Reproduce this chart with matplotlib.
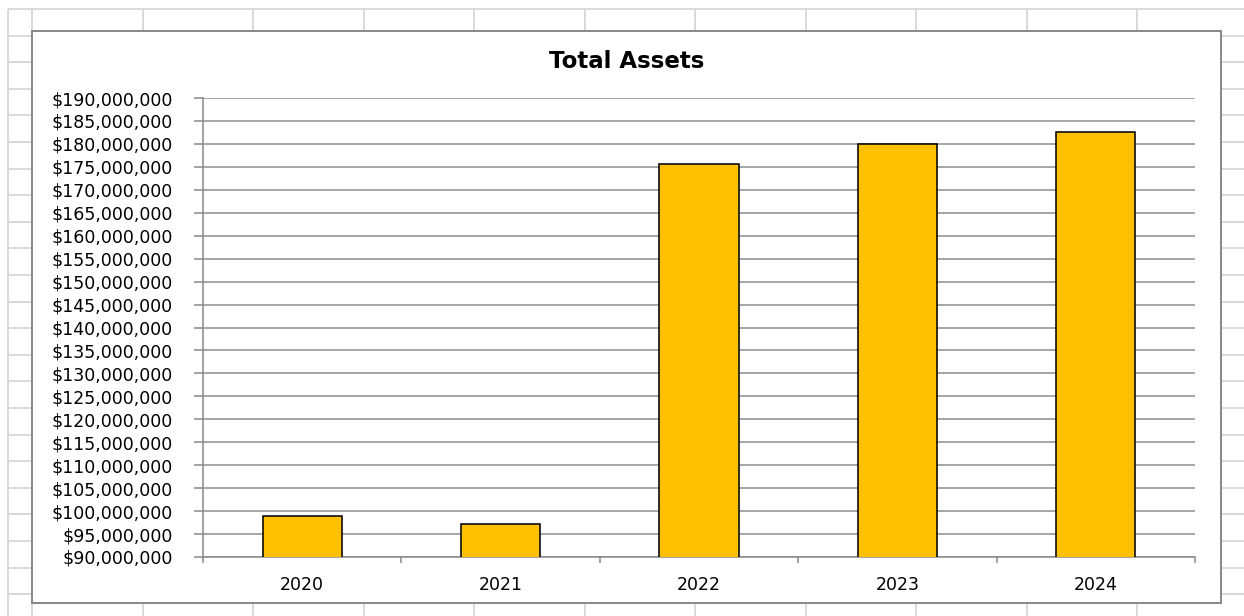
import matplotlib
matplotlib.use("Agg")
import matplotlib.pyplot as plt
from matplotlib.patches import Rectangle
from matplotlib.ticker import FuncFormatter, MultipleLocator, FixedLocator

years = ["2020", "2021", "2022", "2023", "2024"]
total_assets = [98_900_000, 97_250_000, 175_650_000, 180_000_000, 182_650_000]
y_min, y_max, y_step = 90_000_000, 190_000_000, 5_000_000
title = "Total Assets"

W, H, DPI = 1244, 616, 100
PX = 72 / DPI  # points per pixel

fig = plt.figure(figsize=(W / DPI, H / DPI), dpi=DPI)
fig.patch.set_facecolor("white")

# Spreadsheet background grid
bg = fig.add_axes([0, 0, 1, 1], zorder=0)
bg.set_xlim(0, W)
bg.set_ylim(H, 0)
bg.axis("off")
grid_c = "#dadada"
col_x = [8, 32] + [32 + 110.5 * i for i in range(1, 12)]
row_y = [9 + 26.6 * i for i in range(0, 24)]
for x in col_x:
    bg.plot([x, x], [9, H], color=grid_c, lw=2 * PX, solid_capstyle="butt")
for y in row_y:
    bg.plot([8, W], [y, y], color=grid_c, lw=2 * PX, solid_capstyle="butt")

# Chart area box
bg.add_patch(Rectangle((32, 31), 1221 - 32, 603 - 31, facecolor="white",
                       edgecolor="#8a8a8a", lw=2 * PX, zorder=5))
bg.text(626.5, 61, title, ha="center", va="center", fontsize=16.5,
        fontweight="bold", family="DejaVu Sans", color="black", zorder=6)

# Plot area
left, right, top, bottom = 203, 1195, 98, 557
ax = fig.add_axes([left / W, 1 - bottom / H, (right - left) / W, (bottom - top) / H], zorder=2)
ax.set_facecolor("none")

x = list(range(len(years)))
ax.bar(x, total_assets, width=0.4, color="#FFC000", edgecolor="black",
       linewidth=1.3 * PX * 1.2, zorder=3)

ax.set_xlim(-0.5, len(years) - 0.5)
ax.set_ylim(y_min, y_max)
ax.yaxis.set_major_locator(MultipleLocator(y_step))
ax.yaxis.set_major_formatter(FuncFormatter(lambda v, p: "${:,.0f}".format(v)))
ax.set_xticks(x)
ax.set_xticklabels(years)
ax.xaxis.set_minor_locator(FixedLocator([i - 0.5 for i in range(len(years) + 1)]))

axis_c = "#878787"
ax.grid(axis="y", color="#8c8c8c", lw=1.5 * PX, zorder=1)
ax.set_axisbelow(True)
for s in ["top", "right"]:
    ax.spines[s].set_visible(False)
for s in ["left", "bottom"]:
    ax.spines[s].set_color(axis_c)
    ax.spines[s].set_linewidth(1.5 * PX)

ax.tick_params(axis="y", direction="out", length=9 * PX, width=1.5 * PX,
               color=axis_c, pad=21 * PX, labelsize=12.5, labelcolor="black")
ax.tick_params(axis="x", which="major", length=0, pad=19 * PX,
               labelsize=12.5, labelcolor="black")
ax.tick_params(axis="x", which="minor", direction="out", length=6 * PX,
               width=1.5 * PX, color=axis_c)
for lbl in ax.get_xticklabels() + ax.get_yticklabels():
    lbl.set_family("DejaVu Sans")

fig.savefig("out.png", dpi=DPI)
